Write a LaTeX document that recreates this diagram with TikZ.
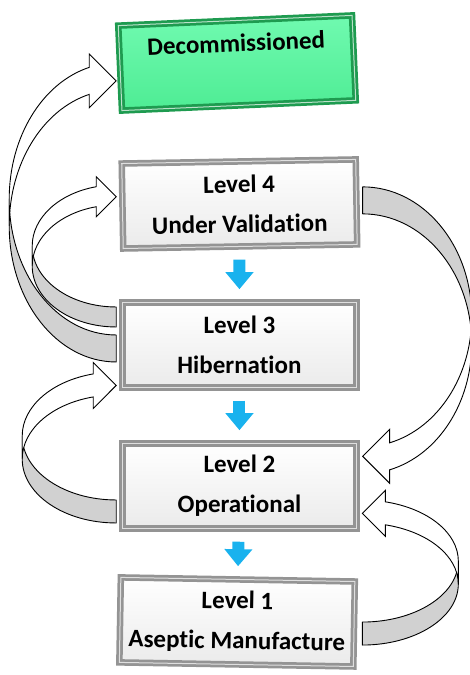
\documentclass[tikz,border=0pt]{standalone}
\usepackage{fontspec}
\setmainfont{Carlito}[Ligatures=NoCommon]
\usetikzlibrary{arrows.meta,calc,shadows}

\definecolor{decogreen}{RGB}{78,236,148}
\definecolor{decolight}{RGB}{112,250,176}
\definecolor{decoframe}{RGB}{30,155,80}
\definecolor{flowblue}{RGB}{25,178,238}

\tikzset{
  bentback/.style={draw=black, line width=0.9pt, fill=black!18, line join=round},
  bentfront/.style={draw=black, line width=0.9pt, fill=white},
}

% ribbon arrow bent round to the left: origin, x radius, y radius, ribbon width
\newcommand{\bentarrow}[5][]{%
  \begin{scope}[shift={#2},#1]
    \pgfmathsetmacro{\headang}{acos(-#5/#3)}
    \pgfmathsetmacro{\headmid}{#4*sin(\headang)-#5/2}
    \filldraw[bentback] (0,-#4) arc[start angle=270,end angle=180,x radius=#3,y radius=#4]
      -- ++(0,-#5) arc[start angle=180,end angle=270,x radius=#3,y radius=#4] -- cycle;
    \filldraw[bentfront] (-#3,-#5) arc[start angle=180,end angle=\headang,x radius=#3,y radius=#4]
      -- ++(0,-#5/2) -- (0,\headmid) -- (-#5,\headmid+#5) -- ++(0,-#5/2)
      arc[start angle=\headang,end angle=180,x radius=#3,y radius=#4] -- cycle;
  \end{scope}}

\begin{document}
\begin{tikzpicture}[x=1pt, y=1pt,
  level/.style={draw=black!42, line width=6.5pt, top color=white, bottom color=black!8,
    minimum width=234pt, minimum height=85pt, align=center,
    font=\bfseries\fontsize{25}{40}\selectfont,
    drop shadow={opacity=0.35, shadow xshift=2pt, shadow yshift=-2.5pt},
    postaction={draw=white, line width=1pt, opacity=0.7}},
  decom/.style={level, draw=decoframe, top color=decolight, bottom color=decogreen},
  flow/.style={draw=flowblue, line width=12pt, -{Triangle[length=17pt, width=27pt]},
    shorten <=10pt, shorten >=10pt},
  node distance=141pt]
  \useasboundingbox (0,0) rectangle (470,675);

  \node[decom, rotate=2.5] (decom) at (237,612) {Decommissioned\\\vphantom{L}};
  \node[level, rotate=1, below of=decom] (l4) {Level 4\\Under Validation};
  \node[level, below of=l4] (l3) {Level 3\\Hibernation};
  \node[level, below of=l3] (l2) {Level 2\\Operational};
  \node[level, rotate=-1, below of=l2, node distance=136pt] (l1) {Level 1\\Aseptic Manufacture};

  \draw[flow] (l4) -- (l3);
  \draw[flow] (l3) -- (l2);
  \draw[flow] (l2) -- (l1);

  % left side
  \bentarrow{($(l3.west)+(-3,146)$)}{107}{136}{27}
  \bentarrow{($(l3.west)+(-3,99)$)}{84}{61}{20}
  \bentarrow{($(l2.west)+(-3,50)$)}{94}{64}{23}
  % right side
  \bentarrow[xscale=-1,yscale=-1]{($(l4.east)+(3,-142)$)}{109}{130}{27}
  \bentarrow[xscale=-1]{($(l1.east)+(5,63)$)}{96}{61}{23}
\end{tikzpicture}
\end{document}
